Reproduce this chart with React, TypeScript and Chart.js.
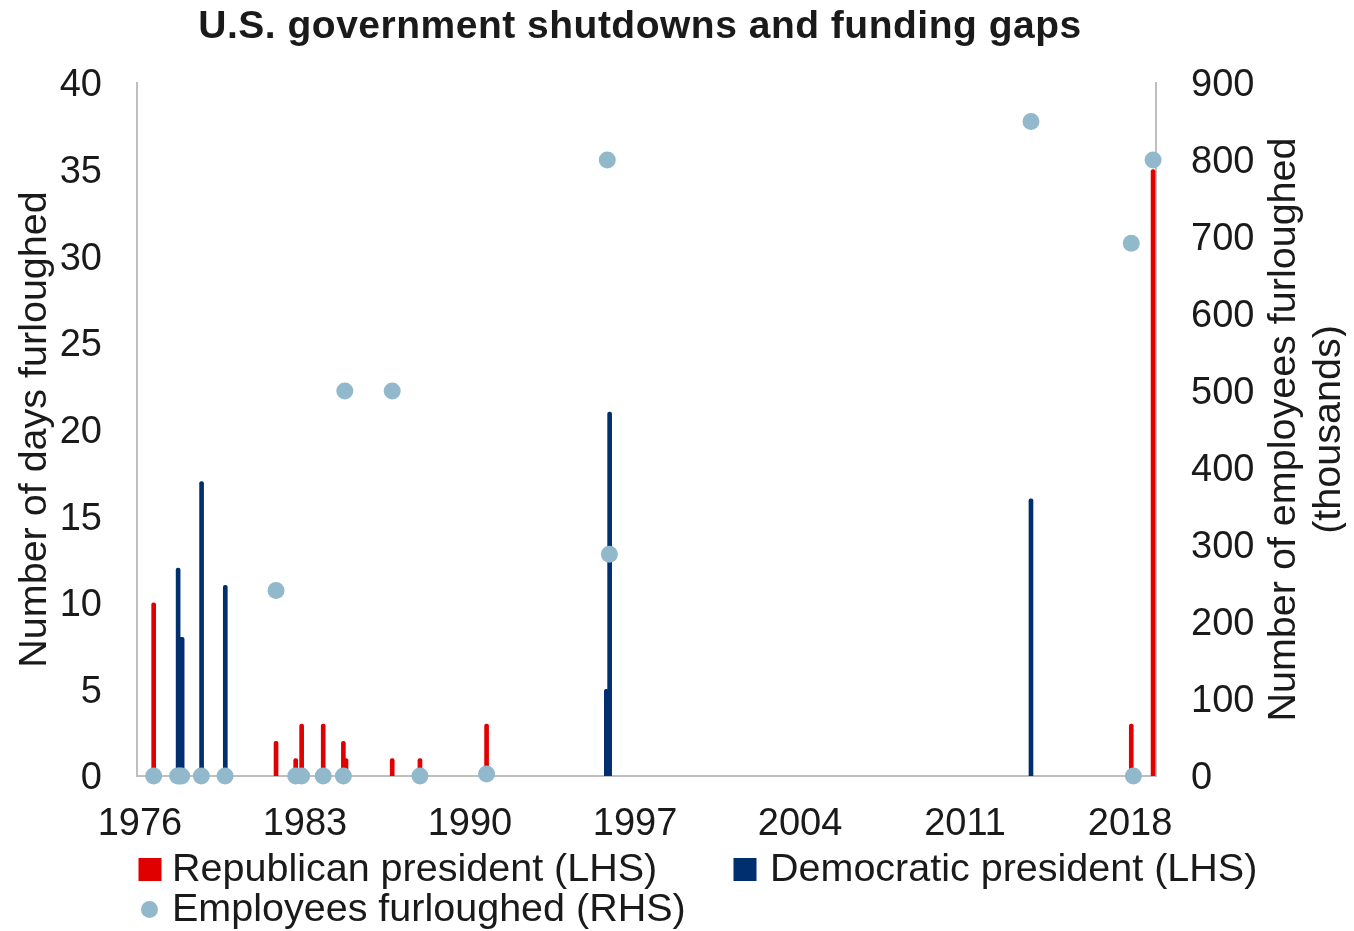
import React, { useEffect, useRef } from 'react';
import { Chart, registerables } from 'chart.js';

Chart.register(...registerables);

// ---- Data (decimal years) ----
const republicanDates = [1976.75, 1981.91, 1982.74, 1982.99, 1983.9, 1984.75, 1984.86, 1986.81, 1987.98, 1990.79, 2017.98, 2018.9];
const republicanDays = [10, 2, 1, 3, 3, 2, 1, 1, 1, 3, 3, 35];

const democraticDates = [1977.78, 1977.88, 1977.95, 1978.77, 1979.77, 1995.84, 1995.98, 2013.75];
const democraticDays = [12, 8, 8, 17, 11, 5, 21, 16];

const furloughDates = [1976.75, 1977.76, 1977.85, 1977.93, 1978.76, 1979.76, 1981.91, 1982.74, 1982.99, 1983.9, 1984.75, 1984.81, 1986.81, 1987.98, 1990.79, 1995.88, 1995.97, 2013.75, 2017.98, 2018.07, 2018.9];
const furloughThousands = [0, 0, 0, 0, 0, 0, 241, 0, 0, 0, 0, 500, 500, 0, 2.5, 800, 288, 850, 692, 0, 800];

const xTickLabels = ['1976', '1983', '1990', '1997', '2004', '2011', '2018'];

const chartTitle = 'U.S. government shutdowns and funding gaps';
const leftAxisTitle = 'Number of days furloughed';
const rightAxisTitle = ['Number of employees furloughed', '(thousands)'];
const legendLabels = ['Republican president (LHS)', 'Democratic president (LHS)', 'Employees furloughed (RHS)'];

// ---- Styling / axis configuration ----
const RED = '#E00000';
const NAVY = '#002F6F';
const DOT = '#91B8CB';
const AXIS = '#BFBFBF';
const TEXT = '#1a1a1a';
const FONT = '"Liberation Sans", Arial, Helvetica, sans-serif';

const X_MIN = 1976.046;
const X_MAX = 2019.023;
const X_FIRST_TICK = 1976.17;
const X_TICK_STEP = 6.96;

const CANVAS_W = 1338;
const CANVAS_H = 923;

const customText = {
  id: 'customText',
  afterDraw(chart: any) {
    const { ctx, chartArea } = chart;
    const cy = (chartArea.top + chartArea.bottom) / 2;
    ctx.save();
    ctx.fillStyle = TEXT;
    ctx.textBaseline = 'alphabetic';

    // Title
    ctx.font = `bold 39px ${FONT}`;
    ctx.textAlign = 'center';
    try {
      (ctx as any).letterSpacing = '0.5px';
    } catch (e) {}
    ctx.fillText(chartTitle, 632, 30);
    try {
      (ctx as any).letterSpacing = '0px';
    } catch (e) {}

    // Left axis title
    ctx.font = `39.5px ${FONT}`;
    ctx.save();
    ctx.translate(38, cy);
    ctx.rotate(-Math.PI / 2);
    ctx.fillText(leftAxisTitle, 0, 0);
    ctx.restore();

    // Right axis title (two lines, reading bottom to top)
    rightAxisTitle.forEach((line, i) => {
      ctx.save();
      ctx.translate(1287 + i * 45, cy);
      ctx.rotate(-Math.PI / 2);
      ctx.fillText(line, 0, 0);
      ctx.restore();
    });

    // Legend
    ctx.textAlign = 'left';
    ctx.fillStyle = RED;
    ctx.fillRect(130.5, 850, 23, 23);
    ctx.fillStyle = NAVY;
    ctx.fillRect(725.5, 850, 23, 23);
    ctx.fillStyle = DOT;
    ctx.beginPath();
    ctx.arc(141.5, 901.5, 8.5, 0, Math.PI * 2);
    ctx.fill();

    ctx.fillStyle = TEXT;
    ctx.fillText(legendLabels[0], 164, 873);
    ctx.fillText(legendLabels[1], 762, 873);
    ctx.fillText(legendLabels[2], 164, 913);
    ctx.restore();
  },
};

export default function App() {
  const ref = useRef<HTMLCanvasElement>(null);

  useEffect(() => {
    const canvas = ref.current;
    if (!canvas) return;

    const tickFont = { family: FONT, size: 38 };

    const chart = new Chart(canvas, {
      type: 'bar',
      data: {
        datasets: [
          {
            type: 'scatter',
            label: legendLabels[2],
            data: furloughDates.map((x, i) => ({ x, y: furloughThousands[i] })),
            xAxisID: 'x',
            yAxisID: 'y1',
            backgroundColor: DOT,
            borderColor: DOT,
            pointRadius: 8.5,
            pointBorderWidth: 0,
            borderWidth: 0,
            clip: false,
            order: -1,
          } as any,
          {
            type: 'bar',
            label: legendLabels[0],
            data: republicanDates.map((x, i) => ({ x, y: republicanDays[i] })),
            xAxisID: 'x',
            yAxisID: 'y',
            backgroundColor: RED,
            barThickness: 4,
            grouped: false,
            borderRadius: 2,
            borderSkipped: 'bottom',
          } as any,
          {
            type: 'bar',
            label: legendLabels[1],
            data: democraticDates.map((x, i) => ({ x, y: democraticDays[i] })),
            xAxisID: 'x',
            yAxisID: 'y',
            backgroundColor: NAVY,
            barThickness: 4,
            grouped: false,
            borderRadius: 2,
            borderSkipped: 'bottom',
          } as any,
        ],
      },
      options: {
        responsive: false,
        animation: false,
        events: [],
        layout: { padding: { top: 75, left: 0, right: 0, bottom: 0 } },
        plugins: {
          legend: { display: false },
          title: { display: false },
          tooltip: { enabled: false },
        },
        scales: {
          x: {
            type: 'linear',
            position: 'bottom',
            min: X_MIN,
            max: X_MAX,
            offset: false,
            grid: { display: false, drawTicks: false },
            border: { display: true, color: AXIS, width: 2 },
            ticks: {
              autoSkip: false,
              maxRotation: 0,
              minRotation: 0,
              padding: 26,
              color: TEXT,
              font: tickFont,
              callback: (_v: any, i: number) => xTickLabels[i],
            },
            afterBuildTicks: (s: any) => {
              s.ticks = xTickLabels.map((_, i) => ({ value: X_FIRST_TICK + i * X_TICK_STEP }));
            },
            afterFit: (s: any) => {
              s.height = CANVAS_H - 768;
            },
          },
          y: {
            type: 'linear',
            position: 'left',
            min: 0,
            max: 40,
            grid: { display: false, drawTicks: false },
            border: { display: true, color: AXIS, width: 2 },
            ticks: { stepSize: 5, padding: 35, labelOffset: 3, color: TEXT, font: tickFont },
            afterFit: (s: any) => {
              s.width = 129;
            },
          },
          y1: {
            type: 'linear',
            position: 'right',
            min: 0,
            max: 900,
            grid: { display: false, drawTicks: false },
            border: { display: true, color: AXIS, width: 2 },
            ticks: { stepSize: 100, padding: 35, labelOffset: 3, color: TEXT, font: tickFont },
            afterFit: (s: any) => {
              s.width = 190;
            },
          },
        },
      } as any,
      plugins: [customText],
    });

    return () => chart.destroy();
  }, []);

  return (
    <div style={{ position: 'fixed', left: 8, top: 8, width: CANVAS_W, height: CANVAS_H }}>
      <canvas
        ref={ref}
        width={CANVAS_W}
        height={CANVAS_H}
        style={{ display: 'block', width: CANVAS_W, height: CANVAS_H }}
      />
    </div>
  );
}
